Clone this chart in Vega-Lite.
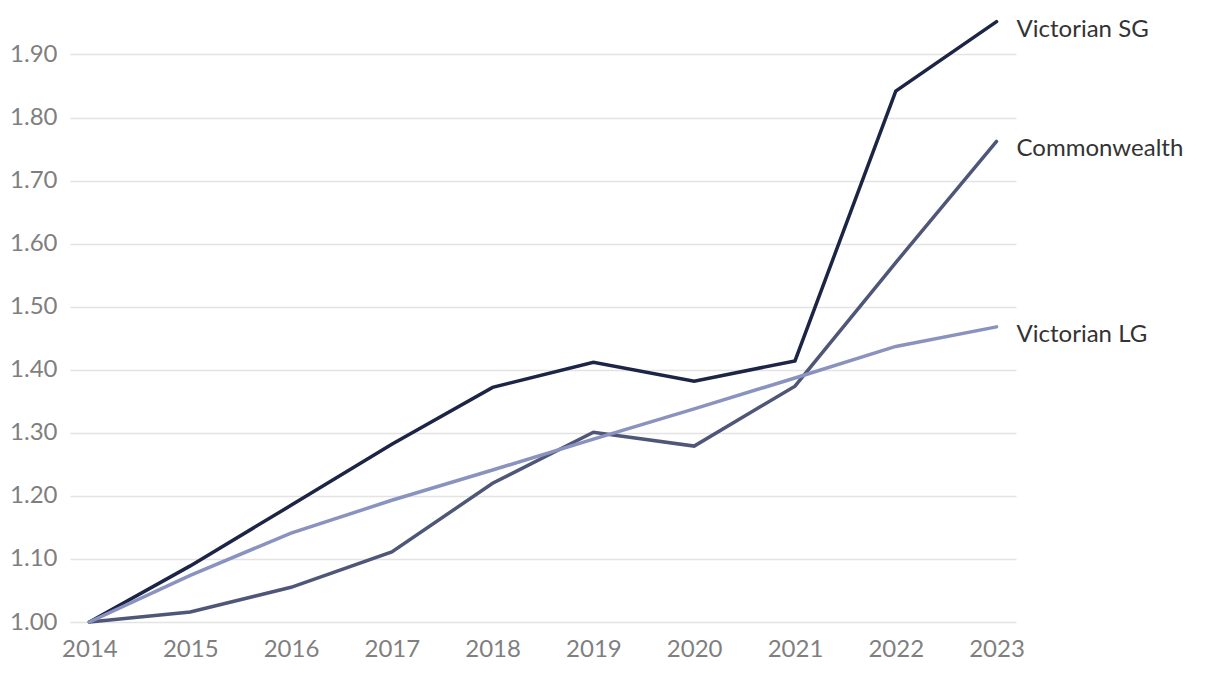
{
  "$schema": "https://vega.github.io/schema/vega-lite/v6.json",
  "width": 946,
  "height": 618,
  "autosize": "none",
  "padding": {"left": 70, "top": 4, "right": 204, "bottom": 54},
  "background": "white",
  "config": {
    "view": {"stroke": null},
    "font": "Lato"
  },
  "data": {
    "values": [
      {"year": "2014", "series": "Victorian SG", "value": 1.0},
      {"year": "2015", "series": "Victorian SG", "value": 1.089},
      {"year": "2016", "series": "Victorian SG", "value": 1.185},
      {"year": "2017", "series": "Victorian SG", "value": 1.282},
      {"year": "2018", "series": "Victorian SG", "value": 1.372},
      {"year": "2019", "series": "Victorian SG", "value": 1.412},
      {"year": "2020", "series": "Victorian SG", "value": 1.382},
      {"year": "2021", "series": "Victorian SG", "value": 1.414},
      {"year": "2022", "series": "Victorian SG", "value": 1.842},
      {"year": "2023", "series": "Victorian SG", "value": 1.952},
      {"year": "2014", "series": "Commonwealth", "value": 1.0},
      {"year": "2015", "series": "Commonwealth", "value": 1.016},
      {"year": "2016", "series": "Commonwealth", "value": 1.055},
      {"year": "2017", "series": "Commonwealth", "value": 1.111},
      {"year": "2018", "series": "Commonwealth", "value": 1.220},
      {"year": "2019", "series": "Commonwealth", "value": 1.301},
      {"year": "2020", "series": "Commonwealth", "value": 1.279},
      {"year": "2021", "series": "Commonwealth", "value": 1.374},
      {"year": "2022", "series": "Commonwealth", "value": 1.570},
      {"year": "2023", "series": "Commonwealth", "value": 1.762},
      {"year": "2014", "series": "Victorian LG", "value": 1.0},
      {"year": "2015", "series": "Victorian LG", "value": 1.074},
      {"year": "2016", "series": "Victorian LG", "value": 1.141},
      {"year": "2017", "series": "Victorian LG", "value": 1.193},
      {"year": "2018", "series": "Victorian LG", "value": 1.241},
      {"year": "2019", "series": "Victorian LG", "value": 1.290},
      {"year": "2020", "series": "Victorian LG", "value": 1.338},
      {"year": "2021", "series": "Victorian LG", "value": 1.387},
      {"year": "2022", "series": "Victorian LG", "value": 1.437},
      {"year": "2023", "series": "Victorian LG", "value": 1.468}
    ]
  },
  "encoding": {
    "x": {
      "field": "year",
      "type": "ordinal",
      "scale": {"type": "point", "padding": 0.193},
      "axis": {
        "title": null,
        "labelAngle": 0,
        "domain": false,
        "ticks": false,
        "labelFontSize": 24,
        "labelColor": "#7f7f7f",
        "labelPadding": 15,
        "grid": false
      }
    },
    "y": {
      "field": "value",
      "type": "quantitative",
      "scale": {"domain": [1.0, 1.98], "nice": false, "zero": false},
      "axis": {
        "title": null,
        "values": [1.0, 1.1, 1.2, 1.3, 1.4, 1.5, 1.6, 1.7, 1.8, 1.9],
        "format": ".2f",
        "domain": false,
        "ticks": false,
        "labelFontSize": 24,
        "labelColor": "#7f7f7f",
        "labelPadding": 13,
        "grid": true,
        "gridColor": "#e3e3e3",
        "gridWidth": 1.5
      }
    },
    "color": {
      "field": "series",
      "type": "nominal",
      "scale": {
        "domain": ["Victorian SG", "Commonwealth", "Victorian LG"],
        "range": ["#1d2546", "#4f5779", "#8a93c0"]
      },
      "legend": null
    }
  },
  "layer": [
    {
      "mark": {"type": "line", "strokeWidth": 3.5, "strokeCap": "round", "strokeJoin": "miter"}
    },
    {
      "transform": [{"filter": "datum.year === '2023'"}],
      "mark": {"type": "text", "align": "left", "baseline": "middle", "dx": 20, "dy": 8, "fontSize": 24, "color": "#333333"},
      "encoding": {
        "text": {"field": "series"},
        "color": {"value": "#333333"}
      }
    }
  ]
}
